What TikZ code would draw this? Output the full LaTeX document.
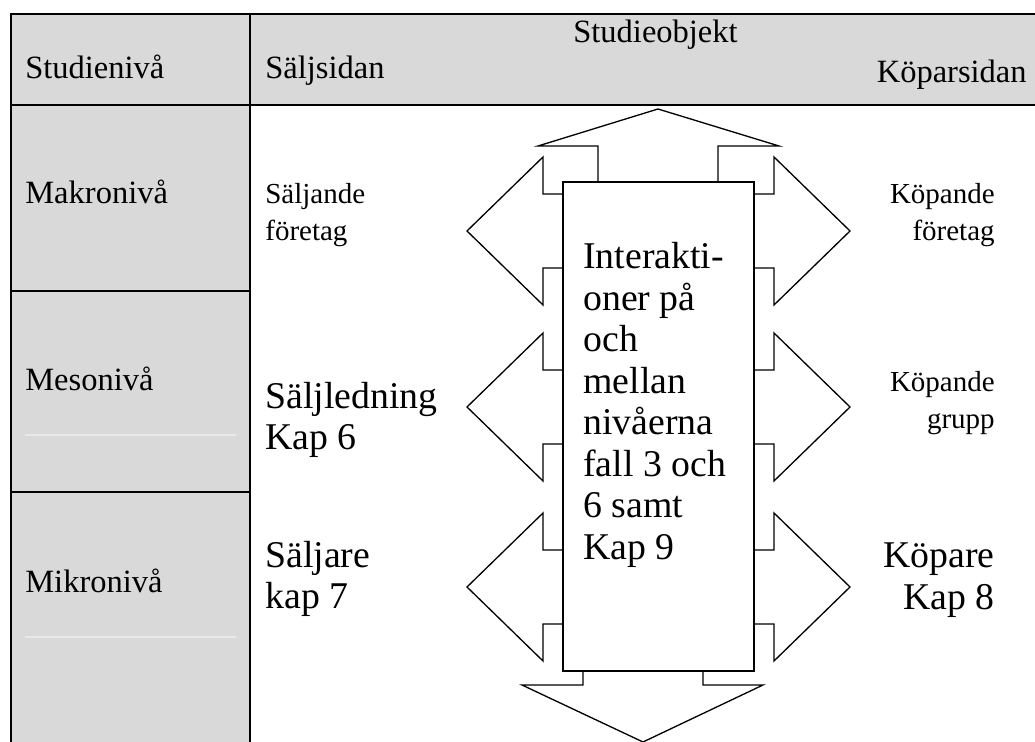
\documentclass[tikz,border=0pt]{standalone}
\usepackage{fontspec}
\setmainfont{Liberation Serif}
\definecolor{cellgrey}{RGB}{217,217,217}
\definecolor{rulegrey}{RGB}{232,232,232}

\begin{document}
\begin{tikzpicture}[x=0.02cm, y=-0.02cm,
  head/.style={font=\fontsize{18.5}{22}\selectfont, inner sep=0pt},
  small/.style={font=\fontsize{16.5}{21}\selectfont, inner sep=0pt, align=left},
  big/.style={font=\fontsize{21.5}{23.6}\selectfont, inner sep=0pt, align=left},
  arrowshape/.style={draw=black, fill=white, line width=0.75pt}]
\useasboundingbox (0,0) rectangle (1035,742);
% grey cells
\fill[cellgrey] (11,14) rectangle (1035,105);
\fill[cellgrey] (11,105) rectangle (250,742);
\draw[rulegrey, line width=0.6pt] (25,435) -- (236,435);
\draw[rulegrey, line width=0.6pt] (25,637) -- (236,637);
% table rules
\draw[line width=1.2pt] (1035,14) -- (11,14) -- (11,742);
\draw[line width=1.2pt] (11,105) -- (1035,105);
\draw[line width=1.2pt] (250,14) -- (250,742);
\draw[line width=1.2pt] (11,291) -- (250,291);
\draw[line width=1.2pt] (11,492) -- (250,492);
% header
\path (25,79) node[head, anchor=base west] (studieniva) {Studienivå};
\path (265,79) node[head, anchor=base west] (saljsidan) {Säljsidan};
\path (573,43) node[head, anchor=base west] (studieobjekt) {Studieobjekt};
\path (1027,83) node[head, anchor=base east] (koparsidan) {Köparsidan};
% levels
\path (25,204) node[head, anchor=base west] (makro) {Makronivå};
\path (25,391) node[head, anchor=base west] (meso) {Mesonivå};
\path (25,593) node[head, anchor=base west] (mikro) {Mikronivå};
% seller side
\path (265,215) node[small, anchor=west] (saljforetag) {Säljande\\företag};
\path (265,420) node[big, anchor=west] (saljledning) {Säljledning\\Kap 6};
\path (265,579) node[big, anchor=west] (saljare) {Säljare\\kap 7};
% buyer side
\path (995,215) node[small, align=right, anchor=east] (kopforetag) {Köpande\\företag};
\path (995,403) node[small, align=right, anchor=east] (kopgrupp) {Köpande\\grupp};
\path (995,580) node[big, align=right, anchor=east] (kopare) {Köpare\\Kap 8};
% arrows up and down
\draw[arrowshape] (598,182) -- (598,146) -- (538,146) -- (658,109) -- (779,146) -- (718,146) -- (718,182);
\draw[arrowshape] (583,671) -- (583,685) -- (522,685) -- (643,742) -- (763,685) -- (703,685) -- (703,671);
% arrows to the sides
\draw[arrowshape] (563,194) -- (543,194) -- (543,157) -- (467,231) -- (543,305) -- (543,268) -- (563,268);
\draw[arrowshape] (754,194) -- (774,194) -- (774,157) -- (850,231) -- (774,305) -- (774,268) -- (754,268);
\draw[arrowshape] (563,370) -- (543,370) -- (543,333) -- (467,407) -- (543,481) -- (543,444) -- (563,444);
\draw[arrowshape] (754,370) -- (774,370) -- (774,333) -- (850,407) -- (774,481) -- (774,444) -- (754,444);
\draw[arrowshape] (563,550) -- (543,550) -- (543,513) -- (467,587) -- (543,661) -- (543,624) -- (563,624);
\draw[arrowshape] (754,550) -- (774,550) -- (774,513) -- (850,587) -- (774,661) -- (774,624) -- (754,624);
% middle box
\draw[fill=white, line width=0.8pt] (563,182) rectangle (754,671);
\path (583,405) node[big, anchor=west] (inter) {Interakti-\\oner på\\och\\mellan\\nivåerna\\fall 3 och\\6 samt\\Kap 9};
\end{tikzpicture}
\end{document}
